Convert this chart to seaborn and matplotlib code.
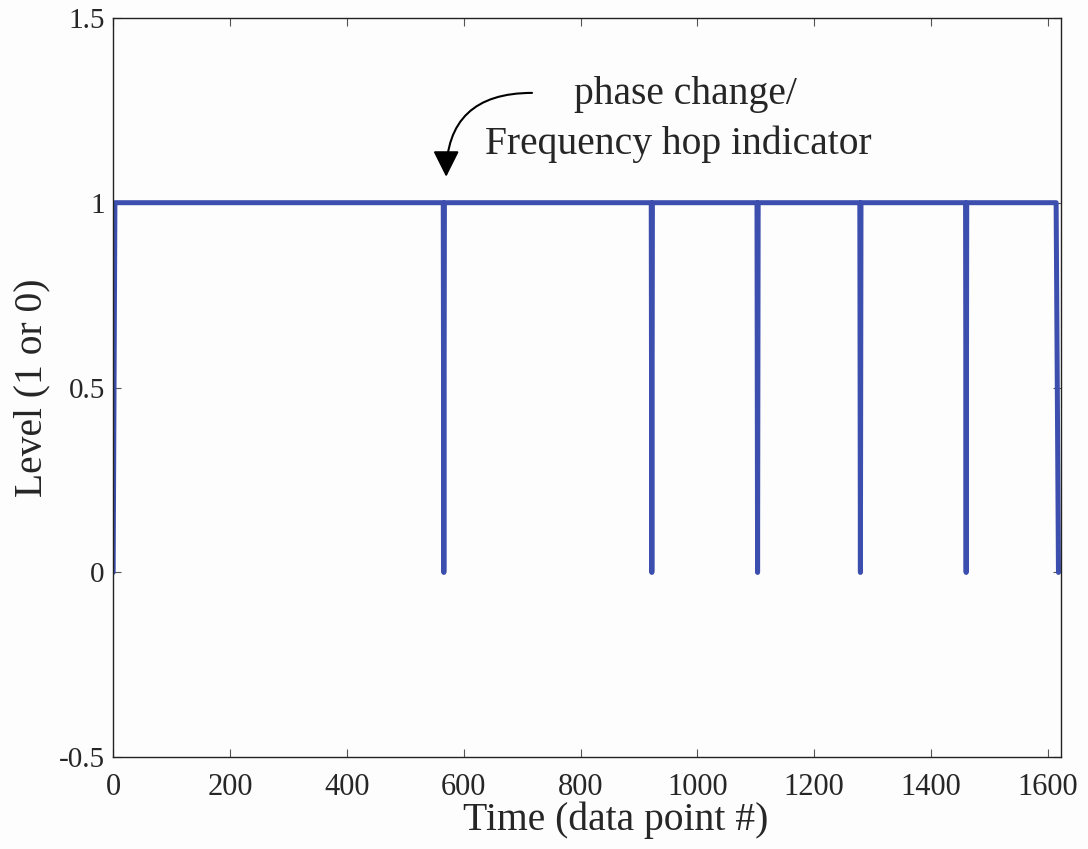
import matplotlib
matplotlib.use("Agg")
import matplotlib.pyplot as plt
import seaborn as sns

# ================================
# data
# ================================
time_pts = [0, 3, 565, 566, 567, 921, 922, 923, 1102, 1103, 1104,
            1278, 1279, 1280, 1459, 1460, 1461, 1614, 1618]
level = [0, 1, 1, 0, 1, 1, 0, 1, 1, 0, 1,
         1, 0, 1, 1, 0, 1, 1, 0]

x_ticks = [0, 200, 400, 600, 800, 1000, 1200, 1400, 1600]
y_ticks = [-0.5, 0, 0.5, 1, 1.5]
y_tick_labels = ["-0.5", "0", "0.5", "1", "1.5"]

sns.set_style("ticks")
plt.rcParams['font.family'] = ['Liberation Serif', 'DejaVu Serif']

fig = plt.figure(figsize=(10.88, 8.49), dpi=100, facecolor='#fdfdfd')
ax = fig.add_axes([0.104, 0.108, 0.871, 0.871])
ax.set_facecolor('#fdfdfd')

sns.lineplot(x=time_pts, y=level, sort=False, estimator=None,
             color='#3d4fae', linewidth=3.6, ax=ax)

ax.set_xlim(0, 1622)
ax.set_ylim(-0.5, 1.5)
ax.set_xticks(x_ticks)
ax.set_xticklabels([str(t) for t in x_ticks], fontsize=22)
ax.set_yticks(y_ticks)
ax.set_yticklabels(y_tick_labels, fontsize=21)
ax.tick_params(direction='in', top=True, right=True, length=6,
               width=0.8, color='#555555')
ax.tick_params(axis='x', pad=11)
ax.tick_params(axis='y', pad=6)

for s in ax.spines.values():
    s.set_visible(True)
    s.set_linewidth(1.0)
    s.set_color('#222222')

ax.set_xlabel("Time (data point #)", fontsize=28.5, labelpad=0)
ax.xaxis.label.set_x(0.53)
ax.set_ylabel("Level (1 or 0)", fontsize=28.5, labelpad=6)

# annotation
ax.text(980, 1.292, "phase change/", fontsize=28.5, ha='center', va='center')
ax.text(967, 1.159, "Frequency hop indicator", fontsize=28.5, ha='center',
        va='center')
ax.annotate("", xy=(570, 1.07), xytext=(717, 1.297),
            arrowprops=dict(arrowstyle='-|>,head_width=0.8,head_length=1.6',
                            connectionstyle='angle3,angleA=0,angleB=90',
                            mutation_scale=10, shrinkA=0, shrinkB=0,
                            color='black', linewidth=1.5))

plt.savefig('out.png', dpi=100, facecolor=fig.get_facecolor())
